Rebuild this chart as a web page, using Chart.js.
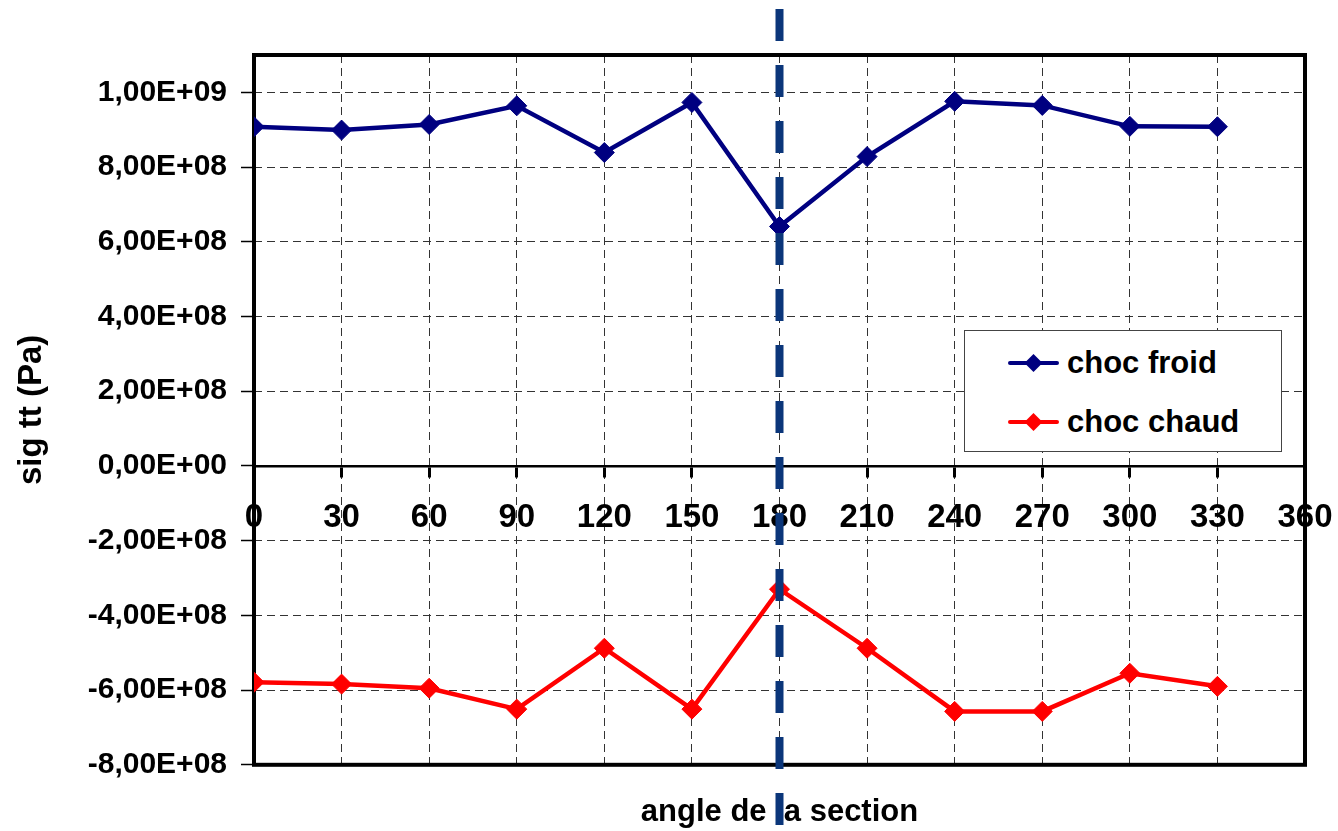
<!DOCTYPE html>
<html>
<head>
<meta charset="utf-8">
<script src="https://cdn.jsdelivr.net/npm/chart.js@4"></script>
<style>
  html, body { margin: 0; padding: 0; background: #fff; }
  #wrap { position: relative; width: 1338px; height: 831px; }
  #legend {
    position: absolute; left: 964px; top: 330px; width: 318px; height: 122px;
    box-sizing: border-box; border: 1px solid #444; background: #fff;
    font-family: 'Liberation Sans', Arial, sans-serif; font-weight: bold; font-size: 31px; color: #000;
  }
  #legend .item { position: absolute; left: 43px; height: 36px; display: flex; align-items: center; white-space: nowrap; }
  #legend svg { display: block; margin-right: 8px; }
</style>
</head>
<body>
<div id="wrap">
  <canvas id="c" width="1338" height="831"></canvas>
  <div id="legend"></div>
</div>
<script>
// Angles of the section (degrees)
const angles = [0, 30, 60, 90, 120, 150, 180, 210, 240, 270, 300, 330];
// Tangential stress sig tt (Pa)
const chocFroid = [9.08e8, 8.99e8, 9.14e8, 9.64e8, 8.39e8, 9.73e8, 6.41e8, 8.28e8, 9.76e8, 9.65e8, 9.09e8, 9.08e8];
const chocChaud = [-5.79e8, -5.84e8, -5.95e8, -6.51e8, -4.88e8, -6.51e8, -3.30e8, -4.88e8, -6.57e8, -6.57e8, -5.55e8, -5.90e8];
// Axis ticks
const xTickValues = [0, 30, 60, 90, 120, 150, 180, 210, 240, 270, 300, 330, 360];
const yTickValues = [-8e8, -6e8, -4e8, -2e8, 0, 2e8, 4e8, 6e8, 8e8, 1e9];
// Section angle highlighted by the dashed line
const markerAngle = 180;

const FONT = "'Liberation Sans', Arial, sans-serif";
Chart.defaults.font.family = FONT;
Chart.defaults.color = '#000';

function sciComma(v) {
  if (v === 0) return '0,00E+00';
  const exp = Math.floor(Math.log10(Math.abs(v)));
  const mant = v / Math.pow(10, exp);
  const e = Math.abs(exp);
  return mant.toFixed(2).replace('.', ',') + 'E' + (exp < 0 ? '-' : '+') + (e < 10 ? '0' : '') + e;
}

const pts = (vals) => angles.map((a, i) => ({ x: a, y: vals[i] }));

// Thick frame around the plot area
const frame = {
  id: 'frame',
  beforeDatasetsDraw(chart) {
    const { ctx, chartArea: a } = chart;
    ctx.save();
    ctx.strokeStyle = '#000';
    ctx.lineWidth = 4;
    ctx.strokeRect(a.left, a.top, a.right - a.left, a.bottom - a.top);
    ctx.restore();
  }
};

// Dashed vertical line at the highlighted angle, crossing the whole figure
const markerLine = {
  id: 'markerLine',
  afterDraw(chart) {
    const { ctx } = chart;
    const x = chart.scales.x.getPixelForValue(markerAngle);
    ctx.save();
    ctx.strokeStyle = '#0b367a';
    ctx.lineWidth = 8;
    ctx.setLineDash([32, 24]);
    ctx.beginPath();
    ctx.moveTo(x, 9);
    ctx.lineTo(x, chart.height);
    ctx.stroke();
    ctx.restore();
  }
};

// HTML legend built from the chart's own legend items
const htmlLegend = {
  id: 'htmlLegend',
  afterUpdate(chart) {
    const box = document.getElementById('legend');
    box.innerHTML = '';
    const items = chart.options.plugins.legend.labels.generateLabels(chart);
    const rowCenters = [32, 91];
    items.forEach((it, i) => {
      const ds = chart.data.datasets[it.datasetIndex];
      const row = document.createElement('div');
      row.className = 'item';
      row.style.top = (rowCenters[i] - 18) + 'px';
      const c = ds.borderColor;
      row.innerHTML =
        '<svg width="51" height="24" viewBox="0 0 51 24">' +
        '<line x1="2" y1="12" x2="49" y2="12" stroke="' + c + '" stroke-width="4" stroke-linecap="round"/>' +
        '<polygon points="25.5,3 34.5,12 25.5,21 16.5,12" fill="' + c + '"/></svg>';
      const span = document.createElement('span');
      span.textContent = it.text;
      row.appendChild(span);
      box.appendChild(row);
    });
  }
};

new Chart(document.getElementById('c'), {
  type: 'line',
  data: {
    datasets: [
      {
        label: 'choc froid', data: pts(chocFroid),
        borderColor: '#000080', backgroundColor: '#000080',
        borderWidth: 4.5, pointStyle: 'rectRot', pointRadius: 10,
        pointBorderWidth: 1, pointBorderColor: '#000080', pointBackgroundColor: '#000080',
        tension: 0, fill: false
      },
      {
        label: 'choc chaud', data: pts(chocChaud),
        borderColor: '#ff0000', backgroundColor: '#ff0000',
        borderWidth: 4.5, pointStyle: 'rectRot', pointRadius: 10,
        pointBorderWidth: 1, pointBorderColor: '#ff0000', pointBackgroundColor: '#ff0000',
        tension: 0, fill: false
      }
    ]
  },
  options: {
    responsive: false,
    animation: false,
    events: [],
    layout: { padding: { left: 0, right: 33, top: 55, bottom: 0 } },
    plugins: {
      legend: { display: false },
      tooltip: { enabled: false },
      title: {
        display: true, position: 'bottom', fullSize: false,
        text: 'angle de la section', color: '#000',
        font: { size: 31, weight: 'bold', family: FONT },
        padding: { top: 29, bottom: 0 }
      }
    },
    scales: {
      x: {
        type: 'linear', min: 0, max: 360,
        position: { y: 0 },
        afterFit(s) { s.height = 0; s.paddingLeft = 0; s.paddingRight = 0; },
        afterBuildTicks(s) { s.ticks = xTickValues.map(v => ({ value: v })); },
        ticks: {
          color: '#000', padding: 22, maxRotation: 0, autoSkip: false,
          font: { size: 33, weight: 'bold', family: FONT },
          callback: (v) => String(v)
        },
        grid: { color: '#333', lineWidth: 1, tickLength: 10, tickWidth: 3, tickColor: '#000' },
        border: { display: true, color: '#000', width: 2.5, dash: [8, 5] }
      },
      y: {
        type: 'linear', min: -8e8, max: 1.1e9,
        afterFit(s) { s.width = 254; s.paddingTop = 0; s.paddingBottom = 0; },
        afterBuildTicks(s) { s.ticks = yTickValues.map(v => ({ value: v })); },
        ticks: {
          color: '#000', padding: 14,
          font: { size: 30, weight: 'bold', family: FONT },
          callback: (v) => sciComma(v)
        },
        grid: { color: '#333', lineWidth: 1, tickLength: 13, tickWidth: 1.5, tickColor: '#000' },
        border: { display: false, dash: [8, 5] },
        title: {
          display: true, text: 'sig tt (Pa)', color: '#000',
          font: { size: 33, weight: 'bold', family: FONT },
          padding: { top: 12, bottom: 0 }
        }
      }
    }
  },
  plugins: [frame, markerLine, htmlLegend]
});
</script>
</body>
</html>
